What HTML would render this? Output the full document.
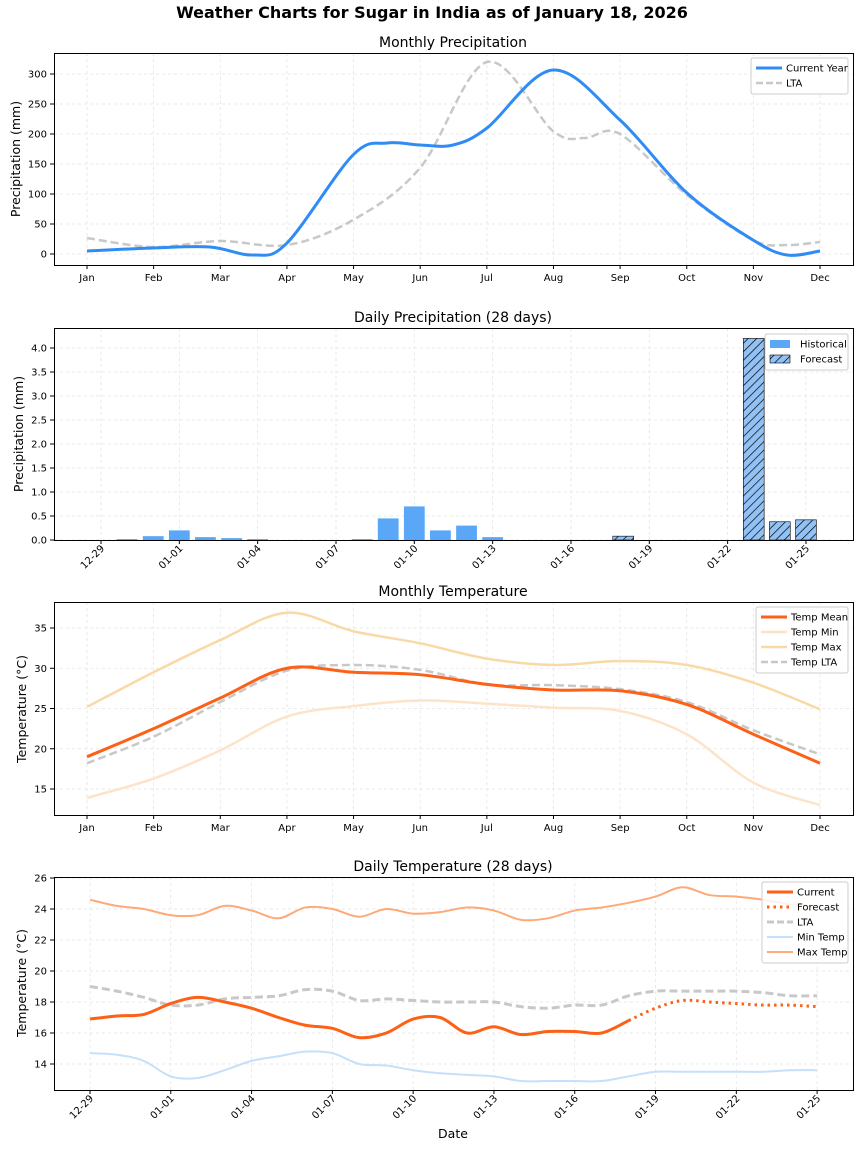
<!DOCTYPE html>
<html><head><meta charset="utf-8"><style>
body{margin:0;background:#fff}
svg{display:block;font-family:"DejaVu Sans","Liberation Sans",sans-serif}
</style></head><body>
<svg id="s" width="864" height="1152" viewBox="0 0 864 1152" xmlns="http://www.w3.org/2000/svg">
<rect width="864" height="1152" fill="#fff"/>
<text x="432" y="18" text-anchor="middle" font-size="16" font-weight="bold">Weather Charts for Sugar in India as of January 18, 2026</text>
</svg>
<script>
const S=document.getElementById('s');let h='';
function cr(p){let d='M'+p[0][0]+','+p[0][1];for(let i=0;i<p.length-1;i++){const a=p[Math.max(0,i-1)],b=p[i],c=p[i+1],e=p[Math.min(p.length-1,i+2)];d+=` C${b[0]+(c[0]-a[0])/6},${b[1]+(c[1]-a[1])/6} ${c[0]-(e[0]-b[0])/6},${c[1]-(e[1]-b[1])/6} ${c[0]},${c[1]}`;}return d;}
function path(p,st){h+=`<path d="${cr(p)}" fill="none" ${st}/>`;}
function frame(y0,y1,title){h+=`<text x="453" y="${y0-6}" text-anchor="middle" font-size="14">${title}</text>`;}
function box(y0,y1){h+=`<rect x="54.5" y="${y0+.5}" width="799" height="${y1-y0}" fill="none" stroke="#000" stroke-width="1"/>`;}
function vgrid(xs,y0,y1){xs.forEach(x=>h+=`<line x1="${x}" x2="${x}" y1="${y0}" y2="${y1}" stroke="#e4e4e4" stroke-dasharray="3,3" stroke-width=".8"/>`);}
function hgrid(ys){ys.forEach(y=>h+=`<line x1="54" x2="853" y1="${y}" y2="${y}" stroke="#e4e4e4" stroke-dasharray="3,3" stroke-width=".8"/>`);}
function ylabels(arr){arr.forEach(([y,t])=>{h+=`<line x1="50" x2="54" y1="${y}" y2="${y}" stroke="#000"/><text x="47" y="${y+3.5}" text-anchor="end" font-size="10">${t}</text>`;});}
function ytitle(t,yc,x){h+=`<text transform="translate(${x},${yc}) rotate(-90)" text-anchor="middle" font-size="12.5">${t}</text>`;}
const M=['Jan','Feb','Mar','Apr','May','Jun','Jul','Aug','Sep','Oct','Nov','Dec'];
const mx=i=>87+i*66.64;
const D=['12-29','01-01','01-04','01-07','01-10','01-13','01-16','01-19','01-22','01-25'];
const dx=i=>90+i*26.93;
const bx=i=>101+i*26.11;
function xmonths(y1){M.forEach((m,i)=>{h+=`<line x1="${mx(i)}" x2="${mx(i)}" y1="${y1}" y2="${y1+4}" stroke="#000"/><text x="${mx(i)}" y="${y1+16}" text-anchor="middle" font-size="10">${m}</text>`;});}
function xdays(y1,f){D.forEach((t,i)=>{const x=f(i*3);h+=`<line x1="${x}" x2="${x}" y1="${y1}" y2="${y1+4}" stroke="#000"/><text transform="translate(${x+4},${y1+9}) rotate(-45)" text-anchor="end" font-size="10">${t}</text>`;});}
function legend(x,y,w,items){h+=`<rect x="${x}" y="${y}" width="${w}" height="${items.length*15+6}" fill="#fff" fill-opacity=".85" stroke="#ccc" rx="2"/>`;items.forEach((it,i)=>{const yy=y+10+i*15;h+=it[0](x+5,yy)+`<text x="${x+35}" y="${yy+3.5}" font-size="10">${it[1]}</text>`;});}
const L=(st)=>(x,y)=>`<line x1="${x}" x2="${x+26}" y1="${y}" y2="${y}" ${st}/>`;

// Panel 1
{const y0=53,y1=265;frame(y0,y1,'Monthly Precipitation');
vgrid(M.map((_,i)=>mx(i)),y0,y1);const yv=v=>254-v*0.6;hgrid([0,50,100,150,200,250,300].map(yv));
path([[87,238],[153,247],[220,241],[287,245],[353,220],[420,168],[487,62],[553,131],[585,138],[620,134],[687,195],[753,240],[787,245],[820,242]],'stroke="#c8c8c8" stroke-width="2.5" stroke-dasharray="8,4"');
path([[87,251],[153,248],[210,247],[253,255],[287,243],[353,155],[387,143],[420,145],[453,145],[487,128],[553,70],[620,120],[687,193],[753,240],[787,255],[820,251]],'stroke="#2f8cf5" stroke-width="3"');
box(y0,y1);ylabels([0,50,100,150,200,250,300].map(v=>[yv(v),v]));xmonths(y1);ytitle('Precipitation (mm)',159,20);
legend(751,58,97,[[L('stroke="#2f8cf5" stroke-width="3"'),'Current Year'],[L('stroke="#c8c8c8" stroke-width="2.5" stroke-dasharray="7,3"'),'LTA']]);}

// Panel 2
{const y0=328,y1=540;frame(y0,y1,'Daily Precipitation (28 days)');
vgrid(D.map((_,i)=>bx(i*3)),y0,y1);const yv=v=>540-v*48;const tk=[0,0.5,1,1.5,2,2.5,3,3.5,4];hgrid(tk.map(yv));
h+=`<defs><pattern id="hp" width="6" height="6" patternUnits="userSpaceOnUse" patternTransform="rotate(45)"><rect width="6" height="6" fill="#92c2f5"/><line x1="0" y1="0" x2="0" y2="6" stroke="#000" stroke-width="1.4"/></pattern></defs>`;
const hist=[[1,.02],[2,.08],[3,.2],[4,.06],[5,.04],[6,.02],[10,.02],[11,.45],[12,.7],[13,.2],[14,.3],[15,.06]];
hist.forEach(([d,v])=>h+=`<rect x="${bx(d)-10.4}" y="${yv(v)}" width="20.8" height="${v*48}" fill="#5aa7f8"/>`);
[[20,.08],[25,4.2],[26,.38],[27,.42]].forEach(([d,v])=>h+=`<rect x="${bx(d)-10.4}" y="${yv(v)}" width="20.8" height="${v*48}" fill="url(#hp)" stroke="#000" stroke-width=".6"/>`);
box(y0,y1);ylabels(tk.map(v=>[yv(v),v.toFixed(1)]));xdays(y1,bx);ytitle('Precipitation (mm)',434,23);
legend(765,334,83,[[(x,y)=>`<rect x="${x}" y="${y-4}" width="20" height="8" fill="#5aa7f8"/>`,'Historical'],[(x,y)=>`<rect x="${x}" y="${y-4}" width="20" height="8" fill="url(#hp)" stroke="#000" stroke-width=".6"/>`,'Forecast']]);
}

// Panel 3
{const y0=602,y1=815;frame(y0,y1,'Monthly Temperature');
vgrid(M.map((_,i)=>mx(i)),y0,y1);const yv=v=>628+(35-v)*8.05;hgrid([15,20,25,30,35].map(yv));
const P=a=>a.map((v,i)=>[mx(i),yv(v)]);
path(P([13.9,16.3,19.8,24,25.3,26,25.6,25.1,24.7,21.8,15.8,13]),'stroke="#fde3c8" stroke-width="2.5"');
path(P([25.2,29.5,33.5,36.9,34.6,33.1,31.2,30.4,30.9,30.4,28.2,24.9]),'stroke="#f9d9a6" stroke-width="2.5"');
path(P([18.2,21.5,25.8,29.7,30.4,29.8,28,27.9,27.4,25.8,22.3,19.3]),'stroke="#c8c8c8" stroke-width="2.5" stroke-dasharray="8,4"');
path(P([19,22.5,26.3,30,29.5,29.2,28,27.3,27.2,25.5,21.8,18.2]),'stroke="#fc6117" stroke-width="3"');
box(y0,y1);ylabels([15,20,25,30,35].map(v=>[yv(v),v]));xmonths(y1);ytitle('Temperature (°C)',709,26);
legend(756,607,92,[[L('stroke="#fc6117" stroke-width="3"'),'Temp Mean'],[L('stroke="#fde3c8" stroke-width="2.5"'),'Temp Min'],[L('stroke="#f9d9a6" stroke-width="2.5"'),'Temp Max'],[L('stroke="#c8c8c8" stroke-width="2.5" stroke-dasharray="7,3"'),'Temp LTA']]);}

// Panel 4
{const y0=877,y1=1090;frame(y0,y1,'Daily Temperature (28 days)');
vgrid(D.map((_,i)=>dx(i*3)),y0,y1);const yv=v=>878+(26-v)*15.5;hgrid([14,16,18,20,22,24,26].map(yv));
const P=(a,s=0)=>a.map((v,i)=>[dx(i+s),yv(v)]);
path(P([24.6,24.2,24.0,23.6,23.6,24.2,23.9,23.4,24.1,24.0,23.5,24.0,23.7,23.8,24.1,23.9,23.3,23.4,23.9,24.1,24.4,24.8,25.4,24.9,24.8,24.6,24.3,24.2]),'stroke="#fdaa78" stroke-width="2"');
path(P([14.7,14.6,14.2,13.2,13.1,13.6,14.2,14.5,14.8,14.7,14.0,13.9,13.6,13.4,13.3,13.2,12.9,12.9,12.9,12.9,13.2,13.5,13.5,13.5,13.5,13.5,13.6,13.6]),'stroke="#c5e0fa" stroke-width="2"');
path(P([19.0,18.7,18.3,17.8,17.8,18.2,18.3,18.4,18.8,18.7,18.1,18.2,18.1,18.0,18.0,18.0,17.7,17.6,17.8,17.8,18.4,18.7,18.7,18.7,18.7,18.6,18.4,18.4]),'stroke="#c8c8c8" stroke-width="3" stroke-dasharray="8,4"');
path(P([16.9,17.1,17.2,17.9,18.3,18.0,17.6,17.0,16.5,16.3,15.7,16.0,16.9,17.0,16.0,16.4,15.9,16.1,16.1,16.0,16.8]),'stroke="#fc6117" stroke-width="3"');
path(P([16.8,17.6,18.1,18.0,17.9,17.8,17.8,17.7],20),'stroke="#fc6117" stroke-width="3" stroke-dasharray="2.5,4"');
box(y0,y1);ylabels([14,16,18,20,22,24,26].map(v=>[yv(v),v]));xdays(y1,dx);ytitle('Temperature (°C)',983,26);
h+=`<text x="453" y="1138" text-anchor="middle" font-size="12.5">Date</text>`;
legend(762,882,86,[[L('stroke="#fc6117" stroke-width="3"'),'Current'],[L('stroke="#fc6117" stroke-width="3" stroke-dasharray="2.5,4"'),'Forecast'],[L('stroke="#c8c8c8" stroke-width="3" stroke-dasharray="7,3"'),'LTA'],[L('stroke="#c5e0fa" stroke-width="2"'),'Min Temp'],[L('stroke="#fdaa78" stroke-width="2"'),'Max Temp']]);}
S.insertAdjacentHTML('beforeend',h);
</script>
</body></html>
